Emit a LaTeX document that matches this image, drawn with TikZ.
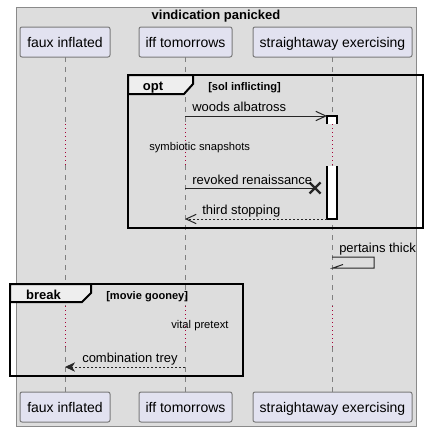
\documentclass[tikz,border=0pt]{standalone}
\usepackage{fontspec}
\setmainfont{Liberation Sans}
\usetikzlibrary{arrows.meta,calc}
\definecolor{bgc}{HTML}{DDDDDD}
\definecolor{partfill}{HTML}{E2E2F0}
\definecolor{partdraw}{HTML}{7A7A7A}
\definecolor{outerdraw}{HTML}{8A8A8A}
\definecolor{lifec}{HTML}{808080}
\definecolor{delayc}{HTML}{A80036}
\definecolor{tabfill}{HTML}{EEEEEE}
\tikzset{
  part/.style={draw=partdraw, fill=partfill, rounded corners=1.5pt, line width=0.75pt, inner sep=0pt, minimum height=22.5pt, font=\fontsize{10.5pt}{12pt}\selectfont, text depth=0pt},
  lifedash/.style={draw=lifec, line width=0.75pt, dash pattern=on 3.75pt off 3.75pt},
  lifedot/.style={draw=delayc, line width=0.75pt, dash pattern=on 0.75pt off 2.25pt},
  msg/.style={font=\fontsize{9.75pt}{11pt}\selectfont, inner sep=0pt, anchor=base west},
  small/.style={font=\fontsize{8.4pt}{10pt}\selectfont, inner sep=0pt, anchor=base west},
  framebold/.style={font=\bfseries\fontsize{9.75pt}{11pt}\selectfont, inner sep=0pt},
  condbold/.style={font=\bfseries\fontsize{8.3pt}{10pt}\selectfont, inner sep=0pt, anchor=base west},
  frameline/.style={draw=black, line width=1.5pt},
  arr/.style={draw=black!85, line width=0.75pt},
  openhead/.style={-{Straight Barb[length=7.5pt,width=7pt,line width=0.75pt]}},
  fillhead/.style={-{Stealth[length=7.5pt,width=7pt,inset=2.2pt]}},
  actfill/.style={fill=white},
  actline/.style={draw=black, line width=0.9pt},
}
\begin{document}
\begin{tikzpicture}[x=0.75pt,y=-0.75pt]
\useasboundingbox (0,0) rectangle (427,432);
% outer box
\draw[draw=outerdraw, fill=bgc, line width=0.75pt] (16,7) rectangle (416,426);
\node[framebold, anchor=base] (title) at (216,19) {vindication panicked};

% participants
\node[part, minimum width=67.5pt] (pa) at (65,42) {faux inflated};
\node[part, minimum width=69.75pt] (pb) at (185.5,42) {iff tomorrows};
\node[part, minimum width=119.25pt] (pc) at (332.5,42) {straightaway exercising};
\node[part, minimum width=67.5pt] (qa) at (65,407) {faux inflated};
\node[part, minimum width=69.75pt] (qb) at (185.5,407) {iff tomorrows};
\node[part, minimum width=119.25pt] (qc) at (332.5,407) {straightaway exercising};

% lifelines
\foreach \lx/\nm in {65/a,185/b,332/c}{
  \coordinate (\nm0) at (\lx,57);
  \coordinate (\nm1) at (\lx,124);
  \coordinate (\nm2) at (\lx,165);
  \coordinate (\nm3) at (\lx,306);
  \coordinate (\nm4) at (\lx,347);
  \coordinate (\nm5) at (\lx,392);
  \draw[lifedash] (\nm0) -- (\nm1);
  \draw[lifedot] (\nm1) -- (\nm2);
  \draw[lifedash] (\nm2) -- (\nm3);
  \draw[lifedot] (\nm3) -- (\nm4);
  \draw[lifedash] (\nm4) -- (\nm5);
}

% opt frame
\draw[frameline] (128,75) rectangle (423,228);
\draw[fill=tabfill, draw=black, line width=1.5pt, line join=miter] (128,75) -- (193,75) -- (193,84) -- (184,94) -- (128,94) -- cycle;
\node[framebold, anchor=base] (optl) at (153,90.5) {opt};
\node[condbold] (optc) at (208,90) {[sol inflicting]};

% activation (interrupted by the delay)
\fill[actfill] (327,116) rectangle (337,124);
\draw[actline] (327,124) -- (327,116) -- (337,116) -- (337,124);
\fill[actfill] (327,166) rectangle (337,219);
\draw[actline] (327,166) -- (327,219) -- (337,219) -- (337,166);
\coordinate (actA) at (327,116);
\coordinate (actB) at (327,219);

% woods albatross
\coordinate (m1s) at (185,116);
\draw[arr, openhead] (m1s) -- (actA);
\node[msg] (t1) at (192,111.5) {woods albatross};

% delay 1
\node[small] (d1) at (149,150) {symbiotic snapshots};

% revoked renaissance (lost)
\coordinate (m2s) at (185,188);
\coordinate (xc) at (315,188);
\draw[arr] (m2s) -- (xc);
\draw[draw=black!85, line width=1.6pt] ($(xc)+(-5.5,-5.5)$) -- ($(xc)+(5.5,5.5)$);
\draw[draw=black!85, line width=1.6pt] ($(xc)+(-5.5,5.5)$) -- ($(xc)+(5.5,-5.5)$);
\node[msg] (t2) at (192,184) {revoked renaissance};

% third stopping
\coordinate (m3e) at (185,219);
\draw[arr, openhead, dash pattern=on 1.5pt off 1.5pt] (actB) -- (m3e);
\node[msg] (t3) at (202,214) {third stopping};

% pertains thick (self)
\coordinate (s0) at (332,257);
\coordinate (s1) at (374,257);
\coordinate (s2) at (374,268);
\coordinate (s3) at (333,268);
\coordinate (s4) at (343,264.5);
\draw[arr] (s0) -- (s1) -- (s2) -- (s3) -- (s4);
\node[msg] (t4) at (339,252) {pertains thick};

% break frame
\draw[frameline] (10,284) rectangle (243,376);
\draw[fill=tabfill, draw=black, line width=1.5pt, line join=miter] (10,284) -- (91,284) -- (91,293) -- (82,302) -- (10,302) -- cycle;
\node[framebold, anchor=base] (brl) at (43.5,299) {break};
\node[condbold] (brc) at (106,299) {[movie gooney]};

% delay 2
\node[small] (d2) at (171,328) {vital pretext};

% combination trey
\coordinate (m5s) at (185,367);
\coordinate (m5e) at (65,367);
\draw[arr, fillhead, dash pattern=on 1.5pt off 1.5pt] (m5s) -- (m5e);
\node[msg] (t5) at (82,362) {combination trey};
\end{tikzpicture}
\end{document}
